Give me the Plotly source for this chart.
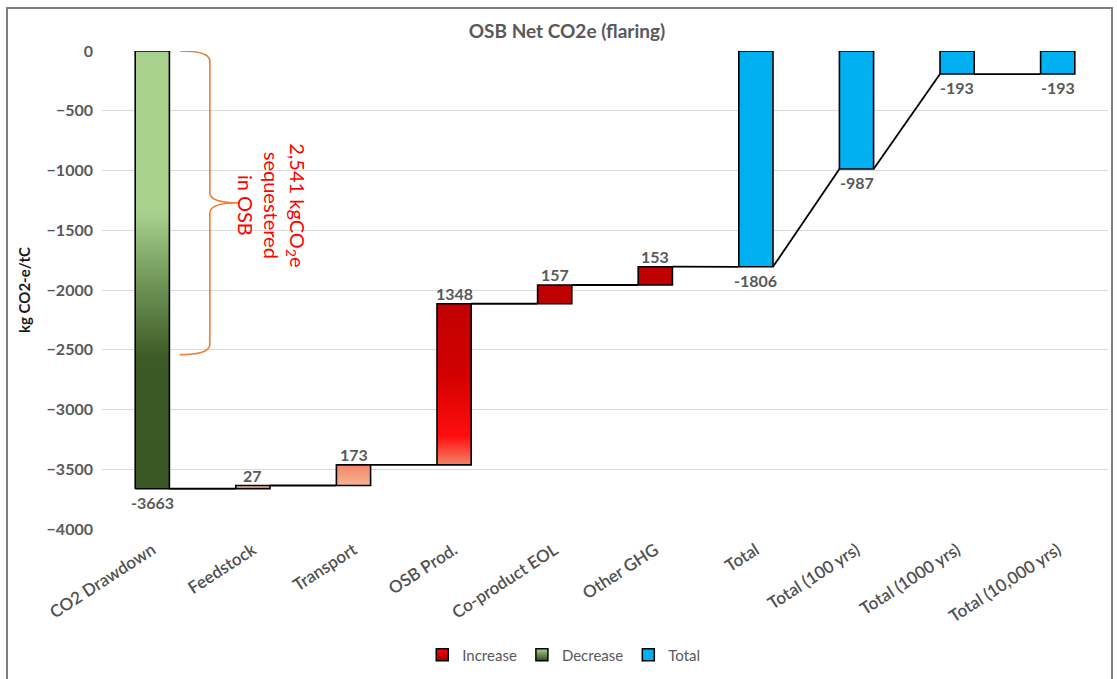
import plotly.graph_objects as go

# Waterfall data: net CO2e per stage (kg CO2-e / tC)
categories = ["CO2 Drawdown", "Feedstock", "Transport", "OSB Prod.", "Co-product EOL",
              "Other GHG", "Total", "Total (100 yrs)", "Total (1000 yrs)", "Total (10,000 yrs)"]
values = [-3663, 27, 173, 1348, 157, 153, -1806, -987, -193, -193]
kinds = ["decrease", "increase", "increase", "increase", "increase",
         "increase", "total", "total", "total", "total"]
sequestered = 2541

W, H = 1117, 679
ML, MR, MT, MB = 102, 9, 51, 149
BAR_W = 0.34
GRAY = "#595959"
FONT = "Lato"

# bar extents from running totals
lows, highs, ends = [], [], []
running = 0
for v, k in zip(values, kinds):
    if k == "total":
        lo, hi = min(0, v), max(0, v)
        running = v
    else:
        start = running
        running = running + v
        lo, hi = min(start, running), max(start, running)
    lows.append(lo)
    highs.append(hi)
    ends.append(running)


def polygons(kind):
    xs, ys = [], []
    for i, k in enumerate(kinds):
        if k != kind:
            continue
        x0, x1 = i - BAR_W / 2, i + BAR_W / 2
        xs += [x0, x1, x1, x0, x0, None]
        ys += [lows[i], lows[i], highs[i], highs[i], lows[i], None]
    return xs, ys


def scale(stops):
    # stops given as (axis value, colour) over the [-4000, 0] axis
    return [[(y + 4000) / 4000, c] for y, c in stops]


red_stops = scale([(-4000, "#8E5A46"), (-3663, "#9A6450"), (-3645, "#F6B793"),
                   (-3470, "#F4876A"), (-3220, "#FF0D0D"), (-2700, "#D20000"),
                   (-2115, "#C00000"), (0, "#C00000")])
green_stops = scale([(-4000, "#375623"), (-2580, "#3B5A25"), (-1950, "#6F9457"),
                     (-1350, "#A9D18E"), (0, "#A9D18E")])

fig = go.Figure()

for kind in ["increase", "decrease", "total"]:
    xs, ys = polygons(kind)
    tr = dict(x=xs, y=ys, mode="lines", fill="toself", showlegend=False,
              line=dict(color="black", width=1.6), hoverinfo="skip")
    if kind == "increase":
        tr["fillgradient"] = dict(type="vertical", colorscale=red_stops, start=-4000, stop=0)
    elif kind == "decrease":
        tr["fillgradient"] = dict(type="vertical", colorscale=green_stops, start=-4000, stop=0)
    else:
        tr["fillcolor"] = "#00B0F0"
    fig.add_trace(go.Scatter(**tr))

# legend entries as small outlined squares
for name, col, grad in [("Increase", "#FF0000", "#A00000"),
                        ("Decrease", "#A9D18E", "#2F4A1E"),
                        ("Total", "#00B0F0", "#00B0F0")]:
    fig.add_trace(go.Scatter(x=[None], y=[None], mode="markers", name=name,
                             marker=dict(symbol="square", size=12, color=col,
                                         gradient=dict(type="vertical", color=grad),
                                         line=dict(color="black", width=1.5))))

# connector lines between consecutive bars
cx, cy = [], []
for i in range(len(values) - 1):
    y_from = ends[i]
    y_to = values[i + 1] if kinds[i + 1] == "total" else ends[i]
    cx += [i + BAR_W / 2, i + 1 - BAR_W / 2, None]
    cy += [y_from, y_to, None]
fig.add_trace(go.Scatter(x=cx, y=cy, mode="lines", line=dict(color="black", width=1.8),
                         showlegend=False, hoverinfo="skip"))

# value labels
for i, v in enumerate(values):
    above = kinds[i] == "increase"
    fig.add_annotation(x=i, y=highs[i] if above else lows[i], xref="x", yref="y",
                       text=str(v), showarrow=False,
                       yanchor="bottom" if above else "top",
                       yshift=-1 if above else -2,
                       font=dict(family=FONT, size=16, color=GRAY, weight="bold"))

# brace marking the sequestered carbon
xa, xb, xt = 0.273, 0.572, 0.87
r = 85
mid = -sequestered / 2
brace = (f"M {xa},0 Q {xb},0 {xb},{-r} L {xb},{mid + r} Q {xb},{mid} {xt},{mid} "
         f"Q {xb},{mid} {xb},{mid - r} L {xb},{-sequestered + r} "
         f"Q {xb},{-sequestered} {xa},{-sequestered}")
fig.add_shape(type="path", path=brace, xref="x", yref="y",
              line=dict(color="#ED7D31", width=1.6))
fig.add_annotation(x=1.19, y=mid - 20, xref="x", yref="y", showarrow=False, textangle=90,
                   text=f"{sequestered:,} kgCO<sub>2</sub>e<br>sequestered<br>in OSB",
                   font=dict(family=FONT, size=20, color="#FF0000"), align="center")

# outer frame
pw, ph = W - ML - MR, H - MT - MB
fig.add_shape(type="rect", xref="paper", yref="paper",
              x0=(7 - ML) / pw, x1=(1112 - ML) / pw,
              y0=(H - MB - 700) / ph, y1=(H - MB - 8) / ph,
              line=dict(color="#7F7F7F", width=2), layer="below")

fig.update_layout(
    width=W, height=H,
    margin=dict(l=ML, r=MR, t=MT, b=MB),
    paper_bgcolor="white", plot_bgcolor="white",
    font=dict(family=FONT, color=GRAY),
    title=dict(text="OSB Net CO2e (flaring)", x=567 / W, xref="container",
               y=1 - 31 / H, yref="container", xanchor="center", yanchor="middle",
               font=dict(family=FONT, size=19, color=GRAY, weight="bold")),
    xaxis=dict(range=[-0.5, len(values) - 0.5], tickvals=list(range(len(values))),
               ticktext=categories, tickangle=-33, showgrid=False, zeroline=False,
               showline=False, ticks="", ticklabelstandoff=7,
               tickfont=dict(family=FONT, size=17, color="#505050", weight=600)),
    yaxis=dict(range=[-4000, 0], dtick=500, tick0=0, showgrid=True, gridcolor="#D9D9D9",
               gridwidth=1, zeroline=False, showline=False, ticks="", ticklabelstandoff=8,
               tickfont=dict(family=FONT, size=16, color=GRAY, weight="bold"),
               title=dict(text="kg CO2-e/tC", standoff=12,
                          font=dict(family=FONT, size=15, color="#1A1A1A", weight="bold"))),
    legend=dict(orientation="h", x=0.459, xanchor="center", y=(H - MB - 655) / ph,
                yanchor="middle", font=dict(family=FONT, size=15, color=GRAY),
                itemwidth=30, tracegroupgap=0),
    showlegend=True,
)

fig.write_html("out.html")
